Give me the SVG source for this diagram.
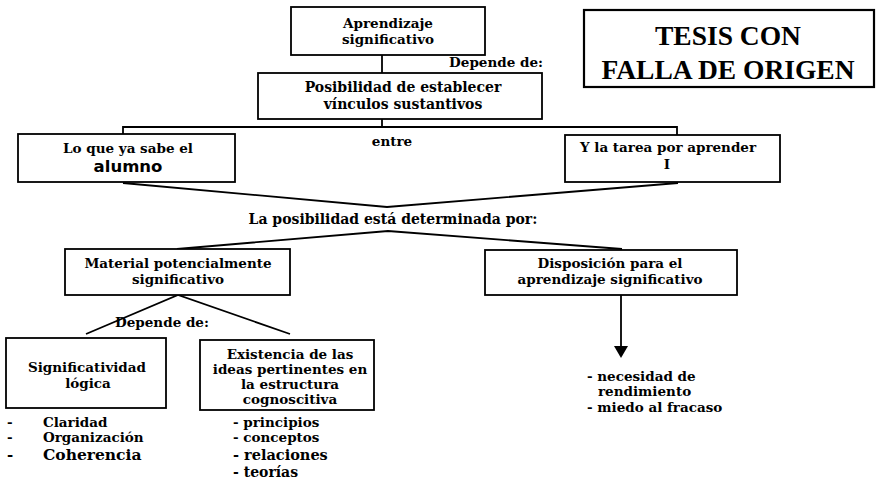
<svg xmlns="http://www.w3.org/2000/svg" width="877" height="481" viewBox="0 0 877 481">
<defs>
<style>
.box{fill:#fff;stroke:#000;stroke-width:1.8}
.ln{fill:none;stroke:#000;stroke-width:1.8;stroke-linejoin:miter}
.t{font-family:"DejaVu Serif","Liberation Serif",serif;font-weight:bold;font-size:13.5px;fill:#000;text-anchor:middle}
.l{font-family:"DejaVu Serif","Liberation Serif",serif;font-weight:bold;font-size:13.5px;fill:#000}
.big{font-family:"Liberation Serif",serif;font-weight:bold;font-size:27.5px;fill:#000;text-anchor:middle}
</style>
</defs>
<rect width="877" height="481" fill="#fff"/>

<g id="connectors">
<line class="ln" x1="382" y1="55" x2="382" y2="73"/>
<polyline class="ln" points="123,134 123,127 677,127 677,135"/>
<line class="ln" x1="382" y1="119" x2="382" y2="127"/>
<polyline class="ln" points="123,183 387,207 678,183"/>
<polyline class="ln" points="177,249 388,231 622,249"/>
<polyline class="ln" points="86,334 178,295 290,334"/>
<line class="ln" x1="621" y1="295" x2="621" y2="347"/>
<path d="M614,346 L628,346 L621,358 z" fill="#000"/>
</g>

<g id="tesis">
<rect class="box" x="584" y="10" width="290" height="77" style="stroke-width:2.2"/>
<text class="big" x="728" y="45">TESIS CON</text>
<text class="big" x="728" y="79">FALLA DE ORIGEN</text>
</g>

<g id="aprendizaje">
<rect class="box" x="291" y="7" width="194" height="48"/>
<text class="t" x="388" y="28">Aprendizaje</text>
<text class="t" x="388" y="44">significativo</text>
</g>

<text class="l" x="543" y="67" style="text-anchor:end">Depende de:</text>

<g id="posibilidad">
<rect class="box" x="258" y="73" width="284" height="46"/>
<text class="t" x="403" y="92" style="font-size:14px">Posibilidad de establecer</text>
<text class="t" x="403" y="109" style="font-size:14px">vínculos sustantivos</text>
</g>

<text class="t" x="392" y="146">entre</text>

<g id="alumno">
<rect class="box" x="18" y="134" width="217" height="48"/>
<text class="t" x="128" y="153">Lo que ya sabe el</text>
<text x="128" y="172" style="font-family:'DejaVu Sans','Liberation Sans',sans-serif;font-weight:bold;font-size:16.5px;text-anchor:middle">alumno</text>
</g>

<g id="tarea">
<rect class="box" x="565" y="135" width="215" height="47"/>
<text class="t" x="668" y="152">Y la tarea por aprender</text>
<text class="t" x="667" y="169">I</text>
</g>

<text class="t" x="393" y="224" style="font-size:14px">La posibilidad está determinada por:</text>

<g id="material">
<rect class="box" x="65" y="249" width="225" height="46"/>
<text class="t" x="178" y="268">Material potencialmente</text>
<text class="t" x="178" y="284">significativo</text>
</g>

<g id="disposicion">
<rect class="box" x="485" y="250" width="252" height="45"/>
<text class="t" x="610" y="268">Disposición para el</text>
<text class="t" x="610" y="284">aprendizaje significativo</text>
</g>

<text class="t" x="162" y="327">Depende de:</text>

<g id="significatividad">
<rect class="box" x="6" y="338" width="160" height="70"/>
<text class="t" x="87" y="372">Significatividad</text>
<text class="t" x="88" y="388">lógica</text>
</g>

<g id="existencia">
<rect class="box" x="200" y="340" width="174" height="70"/>
<text class="t" x="290" y="359">Existencia de las</text>
<text class="t" x="290" y="374">ideas pertinentes en</text>
<text class="t" x="290" y="389">la estructura</text>
<text class="t" x="290" y="404">cognoscitiva</text>
</g>

<g id="lista-logica">
<text class="l" x="7" y="427">-</text>
<text class="l" x="43" y="427">Claridad</text>
<text class="l" x="7" y="442">-</text>
<text class="l" x="43" y="442">Organización</text>
<text class="l" x="7" y="460" style="font-size:15px">-</text>
<text class="l" x="43" y="460" style="font-size:15.5px">Coherencia</text>
</g>

<g id="lista-ideas">
<text class="l" x="233" y="427">- principios</text>
<text class="l" x="233" y="442">- conceptos</text>
<text class="l" x="233" y="460" style="font-size:14.5px">- relaciones</text>
<text class="l" x="233" y="477" style="font-size:14px">- teorías</text>
</g>

<g id="lista-disposicion">
<text class="l" x="587" y="381">- necesidad de</text>
<text class="l" x="598" y="396">rendimiento</text>
<text class="l" x="587" y="412">- miedo al fracaso</text>
</g>
</svg>
